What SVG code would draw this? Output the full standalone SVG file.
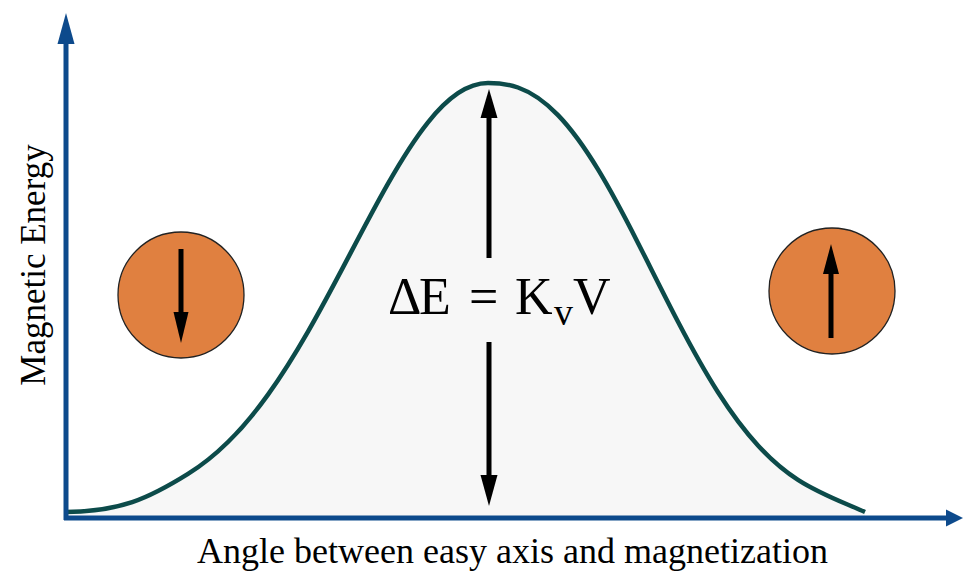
<svg xmlns="http://www.w3.org/2000/svg" width="963" height="571" viewBox="0 0 963 571">
  <style>
    .axis { stroke: #0d4a8c; stroke-width: 5; fill: none; }
    .axishead { fill: #0d4a8c; }
    .curve { fill: none; stroke: #0c4b4a; stroke-width: 4.5; stroke-linejoin: round; stroke-linecap: butt; }
    .area { fill: #f7f7f7; stroke: none; }
    .arr { stroke: #000; stroke-width: 5; fill: none; }
    .arrhead { fill: #000; }
    .particle { fill: #e08040; stroke: #222; stroke-width: 1.3; }
    .lbl { font-family: "Liberation Serif", "Times New Roman", serif; fill: #000; }
  </style>
  <defs>
    <path id="bell" d="M66,512 C120,511.5 148,498.9 188,473.9 C201.33,465.57 214.67,455.12 228,442 C241.33,428.88 254.67,413.11 268,394.6 C281.33,376.09 294.67,354.79 308,331.6 C321.33,308.41 334.67,283.27 348,257.9 C361.33,232.53 374.67,207 388,183.6 C401.33,160.2 414.67,138.95 428,122.3 C438,109.81 448,99.91 458,93.2 C468,86.49 478,83 488,83 C498,83 508,83.97 518,87.5 C531.33,92.21 544.67,101.29 558,115.1 C571.33,128.91 584.67,147.45 598,169.4 C611.33,191.35 624.67,216.67 638,242.9 C651.33,269.13 664.67,296.14 678,321.7 C691.33,347.26 704.67,371.3 718,392.2 C731.33,413.1 744.67,430.89 758,445.4 C771.33,459.91 784.67,471.2 798,479.8 C820.3,494.2 842.7,502 865,512"/>
  </defs>
  <rect width="963" height="571" fill="#ffffff"/>

  <g id="barrier-curve">
    <path class="area" d="M66,512 C120,511.5 148,498.9 188,473.9 C201.33,465.57 214.67,455.12 228,442 C241.33,428.88 254.67,413.11 268,394.6 C281.33,376.09 294.67,354.79 308,331.6 C321.33,308.41 334.67,283.27 348,257.9 C361.33,232.53 374.67,207 388,183.6 C401.33,160.2 414.67,138.95 428,122.3 C438,109.81 448,99.91 458,93.2 C468,86.49 478,83 488,83 C498,83 508,83.97 518,87.5 C531.33,92.21 544.67,101.29 558,115.1 C571.33,128.91 584.67,147.45 598,169.4 C611.33,191.35 624.67,216.67 638,242.9 C651.33,269.13 664.67,296.14 678,321.7 C691.33,347.26 704.67,371.3 718,392.2 C731.33,413.1 744.67,430.89 758,445.4 C771.33,459.91 784.67,471.2 798,479.8 C820.3,494.2 842.7,502 865,512 L865,518 L66,518 Z"/>
    <use href="#bell" class="curve"/>
  </g>

  <g id="connectors">
    <g id="y-axis">
      <line class="axis" x1="66" y1="520" x2="66" y2="38"/>
      <polygon class="axishead" points="66,13 74.5,44 57.5,44"/>
    </g>
    <g id="x-axis">
      <line class="axis" x1="64" y1="518" x2="950" y2="518"/>
      <polygon class="axishead" points="963,518 946,509.5 946,526.5"/>
    </g>
    <g id="barrier-arrow-up">
      <line class="arr" x1="489" y1="258" x2="489" y2="112"/>
      <polygon class="arrhead" points="489,89 497.5,118 480.5,118"/>
    </g>
    <g id="barrier-arrow-down">
      <line class="arr" x1="489" y1="342" x2="489" y2="480"/>
      <polygon class="arrhead" points="489,506 497.5,475 480.5,475"/>
    </g>
  </g>

  <g id="particle-down">
    <circle class="particle" cx="181" cy="295" r="63"/>
    <line class="arr" stroke-width="4.5" x1="181" y1="249" x2="181" y2="318"/>
    <polygon class="arrhead" points="181,343 188.5,312 173.5,312"/>
  </g>

  <g id="particle-up">
    <circle class="particle" cx="832" cy="291" r="63"/>
    <line class="arr" stroke-width="4.5" x1="831" y1="338" x2="831" y2="268"/>
    <polygon class="arrhead" points="831,244 839,274 823,274"/>
  </g>

  <g id="equation">
    <text class="lbl" font-size="52" y="314"><tspan x="388">Δ</tspan><tspan x="419">E</tspan><tspan x="469">=</tspan><tspan x="515">K</tspan><tspan x="554" y="325" font-size="38">v</tspan><tspan x="573" y="314">V</tspan></text>
  </g>

  <g id="y-label">
    <text class="lbl" font-size="35" text-anchor="middle" transform="translate(45,265) rotate(-90)">Magnetic Energy</text>
  </g>

  <g id="x-label">
    <text class="lbl" font-size="36" text-anchor="middle" x="512.5" y="563">Angle between easy axis and magnetization</text>
  </g>
</svg>
